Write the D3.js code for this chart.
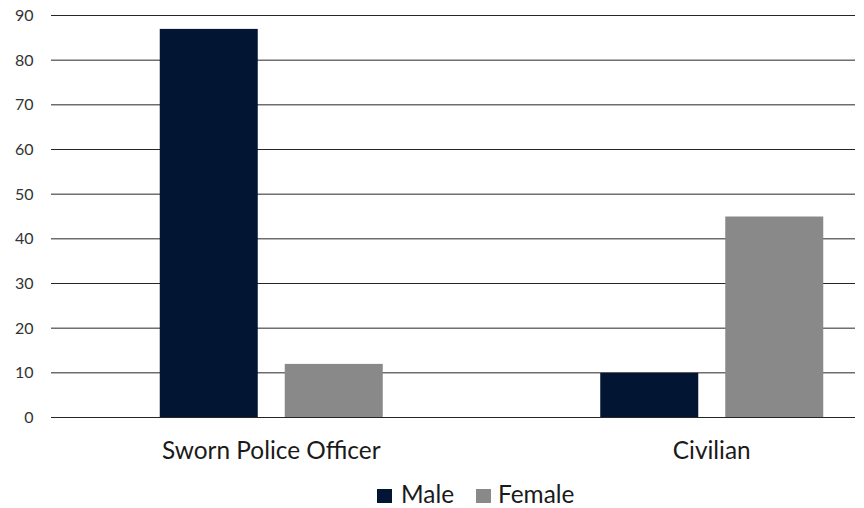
<!DOCTYPE html>
<html><head><meta charset="utf-8">
<script src="https://cdn.jsdelivr.net/npm/d3@7"></script>
<style>body{margin:0;background:#fff}svg{display:block}</style>
</head><body><svg id="c" width="864" height="508"></svg>
<script>
const categories = ["Sworn Police Officer", "Civilian"];
const seriesNames = ["Male", "Female"];
const maleValues = [87, 10];
const femaleValues = [12, 45];
const yTicks = [0, 10, 20, 30, 40, 50, 60, 70, 80, 90];
const colors = ["#021533", "#898989"];

const svg = d3.select("#c");
const font = "Lato, 'Open Sans', sans-serif";
const plotLeft = 51, plotRight = 855, yTop = 15.5, yBottom = 417.5;

const y = d3.scaleLinear().domain([0, 90]).range([yBottom, yTop]);
const x0 = d3.scaleBand().domain(categories).range([51, 932]).paddingInner(0).paddingOuter(0);
const x1 = d3.scaleBand().domain(seriesNames).range([0, 223]).paddingInner(0.216).paddingOuter(0);
const groupOffset = (x0.bandwidth() - 223) / 2;

// gridlines
svg.append("g").selectAll("line").data(yTicks).join("line")
  .attr("x1", plotLeft).attr("x2", plotRight)
  .attr("y1", d => y(d)).attr("y2", d => y(d))
  .attr("stroke", "#262626").attr("stroke-width", 1);

// y labels
svg.append("g").selectAll("text").data(yTicks).join("text")
  .attr("x", 33.5).attr("y", d => y(d)).attr("dy", "0.35em")
  .attr("text-anchor", "end").attr("font-family", font).attr("font-size", 16)
  .attr("fill", "#333").text(d => d);

const data = categories.map((c, i) => ({cat: c, vals: [maleValues[i], femaleValues[i]]}));
const groups = svg.append("g").selectAll("g").data(data).join("g")
  .attr("transform", d => `translate(${x0(d.cat) + groupOffset},0)`);
groups.selectAll("rect").data(d => d.vals.map((v, j) => ({s: seriesNames[j], v, j})))
  .join("rect")
  .attr("x", d => x1(d.s)).attr("width", x1.bandwidth())
  .attr("y", d => y(d.v)).attr("height", d => y(0) - y(d.v))
  .attr("fill", d => colors[d.j]);

// baseline on top
svg.append("line").attr("x1", plotLeft).attr("x2", plotRight)
  .attr("y1", y(0)).attr("y2", y(0)).attr("stroke", "#262626");

// category labels
svg.append("g").selectAll("text").data(categories).join("text")
  .attr("x", d => x0(d) + x0.bandwidth() / 2).attr("y", 459)
  .attr("text-anchor", "middle").attr("font-family", font).attr("font-size", 24.4)
  .attr("fill", "#1a1a1a").text(d => d);

// legend
const legendX = [377, 476];
const leg = svg.append("g").selectAll("g").data(seriesNames).join("g")
  .attr("transform", (d, i) => `translate(${legendX[i]},489)`);
leg.append("rect").attr("width", 15).attr("height", 14).attr("fill", (d, i) => colors[i]);
leg.append("text").attr("x", d => d === "Male" ? 24 : 22).attr("y", 14).attr("font-family", font).attr("font-size", 24.4)
  .attr("fill", "#1a1a1a").text(d => d);
</script></body></html>
